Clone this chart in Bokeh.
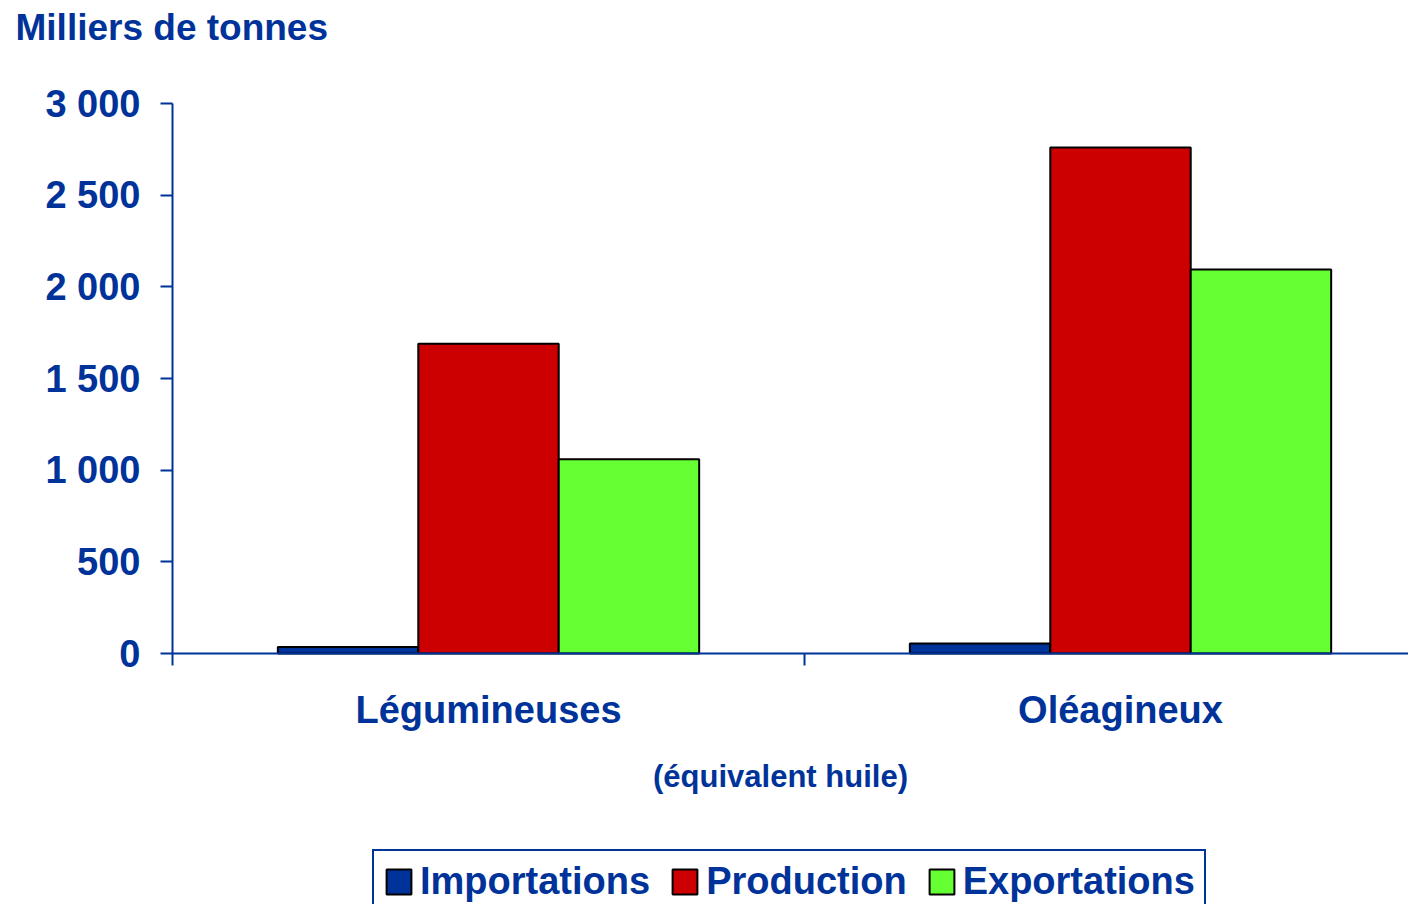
from bokeh.plotting import figure
from bokeh.models import (Range1d, FixedTicker, Legend, LegendItem, ColumnDataSource, Label)
from bokeh.embed import file_html
from bokeh.resources import INLINE

categories = ["Légumineuses", "Oléagineux"]
series = ["Importations", "Production", "Exportations"]
importations = [35, 55]
production = [1690, 2760]
exportations = [1060, 2095]
y_ticks = [0, 500, 1000, 1500, 2000, 2500, 3000]
y_max = 3000
y_title = "Milliers de tonnes"
subtitle = "(équivalent huile)"

colors = ["#003399", "#CC0000", "#66FF33"]
blue = "#003399"
FONT = "Liberation Sans"

# canvas / frame geometry (pixels)
W, H = 1408, 904
X0_PX, X_UNIT_PX = 172, 632          # x=0 position and width of one category
Y0_PX, YTOP_PX = 653, 103            # y=0 and y=y_max positions
ppu = (Y0_PX - YTOP_PX) / y_max      # pixels per unit on y


def xd(px):
    return (px - X0_PX) / X_UNIT_PX


def yd(py):
    return (Y0_PX - py) / ppu


p = figure(width=W, height=H, output_backend="svg", toolbar_location=None,
           title_location=None,
           x_range=Range1d(xd(0), xd(W)), y_range=Range1d(yd(H), yd(0)),
           min_border_left=0, min_border_right=0, min_border_top=0,
           min_border_bottom=0)
p.outline_line_color = None
p.xgrid.visible = False
p.ygrid.visible = False
p.background_fill_color = "white"
p.border_fill_color = "white"

bar_w = 2 / 9
offsets = [-bar_w, 0, bar_w]
values = [importations, production, exportations]
renderers = []
for k, (name, vals) in enumerate(zip(series, values)):
    src = ColumnDataSource(dict(x=[i + 0.5 + offsets[k] for i in range(len(categories))],
                                top=vals))
    r = p.vbar(x="x", top="top", width=bar_w, bottom=0, source=src,
               fill_color=colors[k], line_color="black", line_width=2)
    renderers.append(r)

# y axis
ya = p.yaxis[0]
ya.fixed_location = 0
ya.bounds = (0, y_max)
ya.ticker = FixedTicker(ticks=y_ticks)
ya.major_label_overrides = {v: f"{v:,}".replace(",", " ") for v in y_ticks}
ya.axis_line_color = blue
ya.axis_line_width = 2
ya.major_tick_line_color = blue
ya.major_tick_line_width = 2
ya.major_tick_out = 12
ya.major_tick_in = 0
ya.minor_tick_line_color = None
ya.major_label_text_font = FONT
ya.major_label_text_font_style = "bold"
ya.major_label_text_font_size = "38px"
ya.major_label_text_color = blue
ya.major_label_standoff = 20

# x axis
xa = p.xaxis[0]
xa.fixed_location = 0
xa.bounds = (0, xd(W))
xa.ticker = FixedTicker(ticks=[i + 0.5 for i in range(len(categories))],
                        minor_ticks=list(range(len(categories) + 1)))
xa.major_label_overrides = {i + 0.5: c for i, c in enumerate(categories)}
xa.axis_line_color = blue
xa.axis_line_width = 2
xa.major_tick_line_color = None
xa.major_tick_out = 0
xa.major_tick_in = 0
xa.minor_tick_line_color = blue
xa.minor_tick_line_width = 2
xa.minor_tick_out = 12
xa.minor_tick_in = 0
xa.major_label_text_font = FONT
xa.major_label_text_font_style = "bold"
xa.major_label_text_font_size = "38px"
xa.major_label_text_color = blue
xa.major_label_standoff = 23

# title and subtitle
p.add_layout(Label(x=xd(15), y=yd(27), text=y_title,
                   text_font=FONT, text_font_style="bold", text_font_size="37px",
                   text_color=blue, text_baseline="alphabetic", text_align="left"))
p.add_layout(Label(x=xd(780), y=yd(776), text=subtitle,
                   text_font=FONT, text_font_style="bold", text_font_size="31px",
                   text_color=blue, text_baseline="alphabetic", text_align="center"))

legend = Legend(items=[LegendItem(label=s, renderers=[r]) for s, r in zip(series, renderers)],
                orientation="horizontal", location=(372, H - 914),
                glyph_width=31, glyph_height=31, label_standoff=6, spacing=19,
                padding=9, margin=0,
                label_text_font=FONT, label_text_font_style="bold",
                label_text_font_size="38px", label_text_color=blue,
                border_line_color=blue, border_line_width=2, border_line_alpha=1,
                background_fill_color="white", background_fill_alpha=1)
p.add_layout(legend)

open("out.html", "w").write(file_html(p, INLINE))
